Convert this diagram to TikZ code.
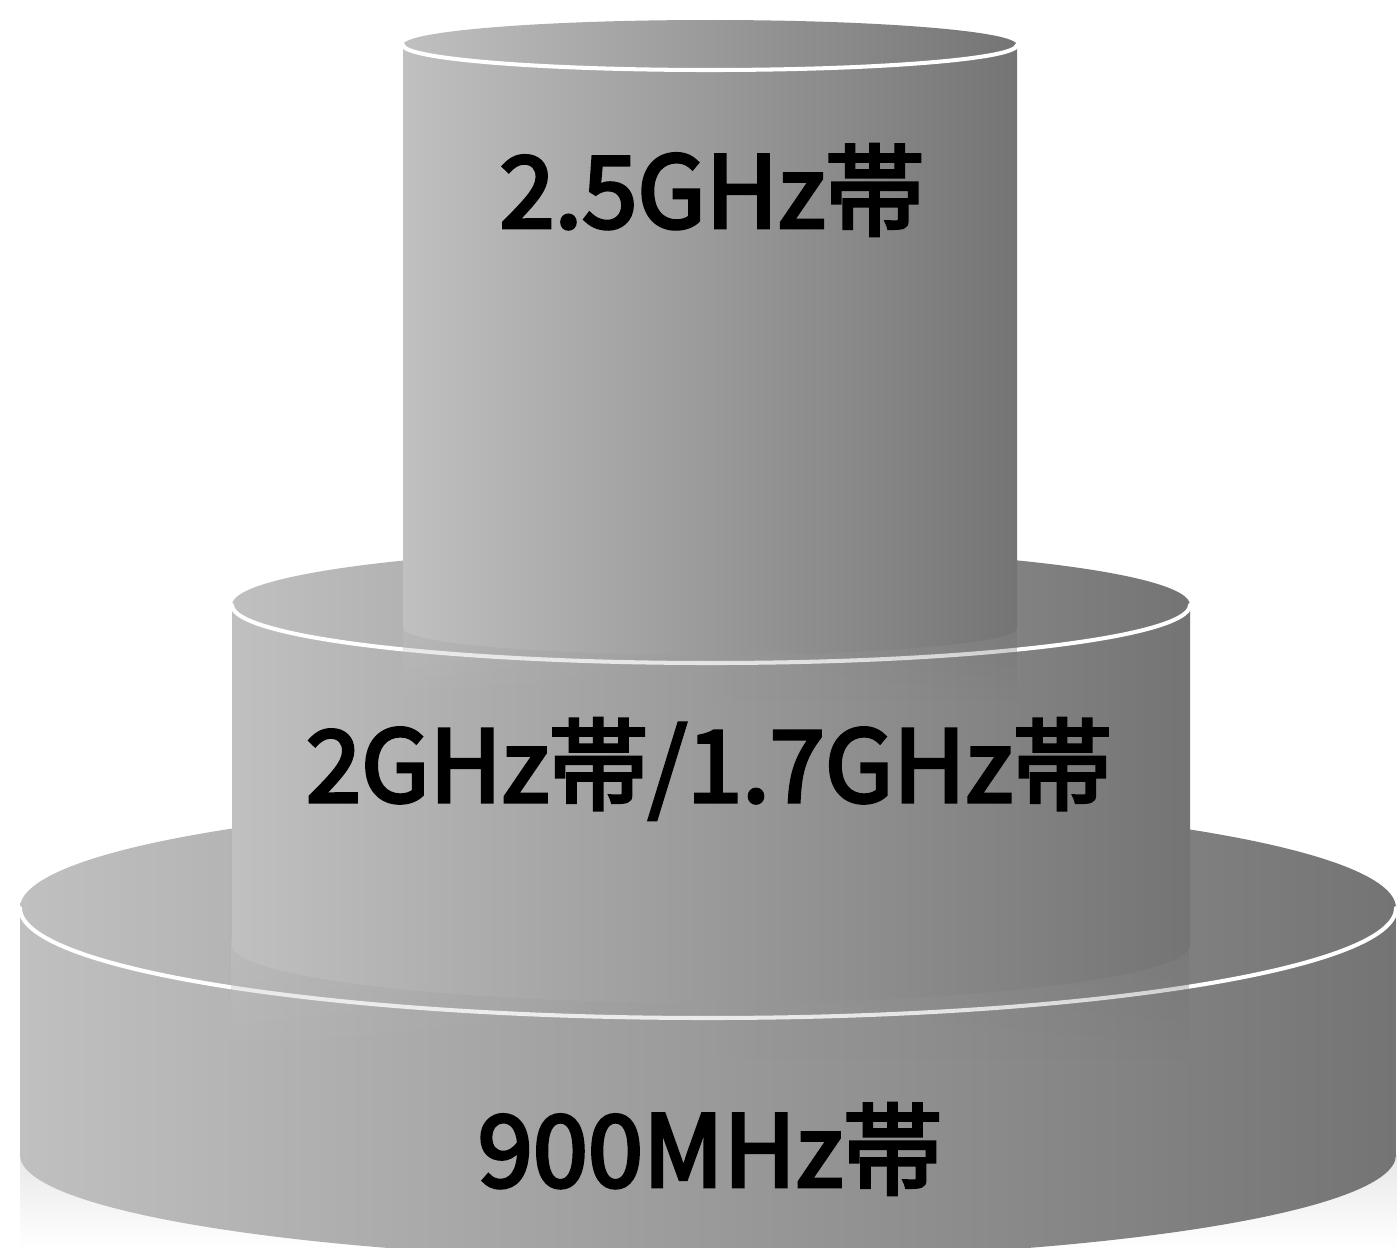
\documentclass[tikz,border=0pt]{standalone}
\usepackage{fontspec}
\newfontfamily\jpfont[FakeBold=3.5]{Noto Sans CJK JP}
\usetikzlibrary{positioning,fadings}
\definecolor{cylLight}{RGB}{192,192,192}
\definecolor{cylDark}{RGB}{116,116,116}
\tikzset{
  cylbody/.style={left color=cylLight, right color=cylDark},
  cyltop/.style ={left color=cylLight, right color=cylDark},
  cylrim/.style ={white, line width=2.3pt, line cap=round},
  cylglow/.style={left color=cylLight, right color=cylDark,
                  path fading=south, fill opacity=0.55},
  floorfade/.style={top color=black!9, bottom color=white},
  bandlabel/.style={font=\jpfont\fontsize{56.5}{62}\selectfont,
                    text=black, inner sep=0pt},
}
% #1 centre x, #2 top y, #3 bottom y, #4 x radius, #5 top y radius, #6 bottom y radius
\newcommand{\bandcylinder}[6]{%
  \shade[cylbody] (#1-#4,#2) -- (#1-#4,#3)
    arc[start angle=180, end angle=0, x radius=#4, y radius=#6]
    -- (#1+#4,#2)
    arc[start angle=0, end angle=180, x radius=#4, y radius=#5] -- cycle;
  \shade[cyltop] (#1,#2) ellipse[x radius=#4, y radius=#5];
  \draw[cylrim] (#1-#4,#2) arc[start angle=180, end angle=0, x radius=#4, y radius=#5];
}
% faint mirror band under an upper cylinder
\newcommand{\bandglow}[4]{%
  \shade[cylglow] (#1-#4,#2) rectangle (#1+#4,#3);
}
\begin{document}
\begin{tikzpicture}[x=0.02cm, y=-0.02cm]
\useasboundingbox (0,0) rectangle (1397,1248);
\fill[white] (0,0) rectangle (1397,1248);
% floor reflection
\shade[floorfade] (20,1155) rectangle (1397,1248);
% three bands, widest first
\bandcylinder{708}{908}{1155}{688}{110}{105}
\bandglow{711}{940}{1060}{479}
\bandcylinder{711}{605}{945}{479}{58}{58}
\bandglow{710}{620}{700}{307}
\bandcylinder{710}{45}{628}{307}{25}{27}
\node[bandlabel] (band25)  at (712,190)  {2.5GHz帯};
\node[bandlabel] (band2g)  at (709,769)  {2GHz帯/1.7GHz帯};
\node[bandlabel] (band900) at (710,1149) {900MHz帯};
\end{tikzpicture}
\end{document}
